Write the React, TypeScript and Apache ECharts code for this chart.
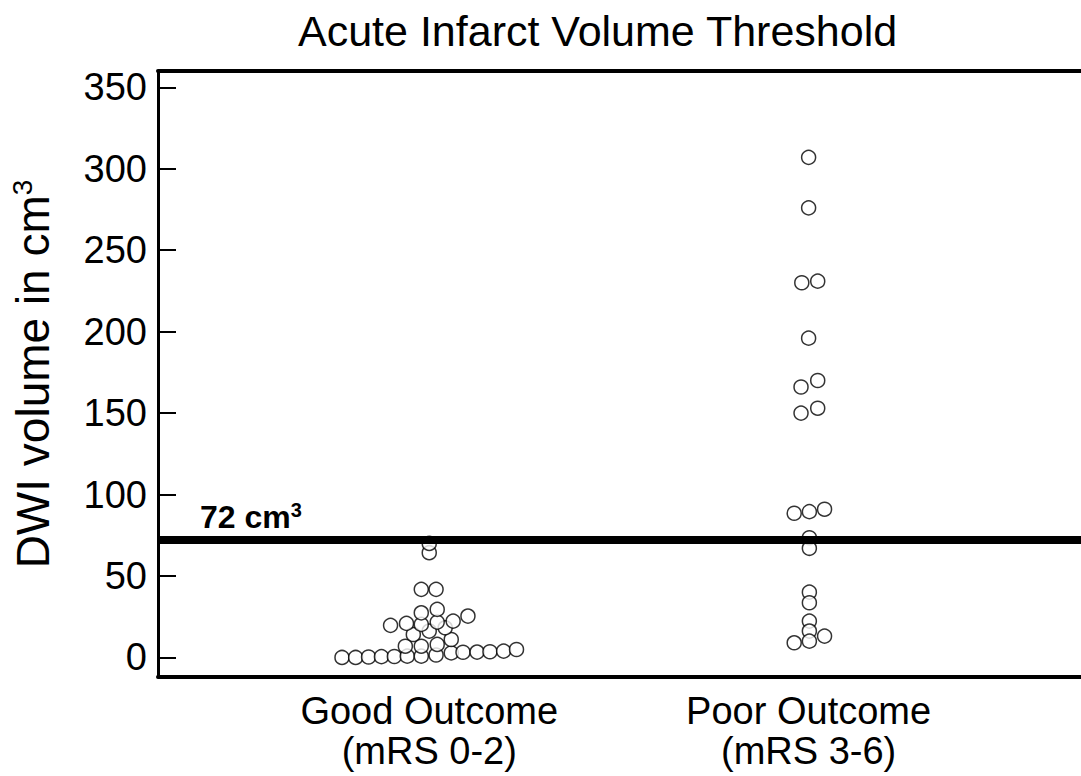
import React, { useEffect, useRef } from "react";
import * as echarts from "echarts";

const categories = ["Good Outcome\n(mRS 0-2)", "Poor Outcome\n(mRS 3-6)"];
const yTicks = [0, 50, 100, 150, 200, 250, 300, 350];
const threshold = 72;

const goodValues = [0, 0, 0.3, 0.5, 0.6, 0.8, 0.8, 1.5, 2.8, 3.2, 3.3, 3.5, 3.9, 4.9,
  6.9, 6.9, 8, 11, 14.1, 16.2, 18.2, 19.7, 20.9, 20.3, 21.7, 22.3, 25.4, 27.4, 29.5,
  41.8, 41.8, 64.3, 70];
const goodJitter = [-0.23, -0.194, -0.16, -0.126, -0.092, -0.058, -0.021, 0.018, 0.058, 0.089, 0.126, 0.16, 0.196, 0.23,
  -0.063, -0.021, 0.021, 0.058, -0.042, 0, 0.042, -0.102, -0.06, -0.021, 0.021, 0.063, 0.102, -0.021, 0.021,
  -0.021, 0.018, 0, 0];

const poorValues = [307, 276, 230, 231, 196, 166, 170, 150, 153, 88.5, 89.5, 91, 73.5, 67,
  40.1, 33.6, 22.3, 16.2, 13.1, 9, 10];
const poorJitter = [0, 0, -0.018, 0.024, 0, -0.02, 0.024, -0.02, 0.024, -0.038, 0.002, 0.042, 0.002, 0.002,
  0.002, 0.002, 0.002, 0.002, 0.042, -0.038, 0.002];

const FONT = "'Liberation Sans', Arial, Helvetica, sans-serif";

export default function App() {
  const ref = useRef<HTMLDivElement>(null);
  useEffect(() => {
    if (!ref.current) return;
    const chart = echarts.init(ref.current, undefined, { renderer: "svg" });
    const goodData = goodValues.map((v, i) => [0 + goodJitter[i], v]);
    const poorData = poorValues.map((v, i) => [1 + poorJitter[i], v]);
    const pointStyle = { color: "#ffffff", borderColor: "#000000", borderWidth: 1.5 };
    chart.setOption({
      animation: false,
      backgroundColor: "#ffffff",
      textStyle: { fontFamily: FONT },
      title: {
        text: "Acute Infarct Volume Threshold",
        left: 293,
        top: 4,
        textStyle: { fontSize: 43, fontWeight: "normal", color: "#000", fontFamily: FONT },
      },
      grid: { left: 156, top: 71, width: 932, height: 606, containLabel: false },
      xAxis: [
        {
          type: "value",
          min: -0.715,
          max: 1.718,
          position: "bottom",
          axisLine: { show: true, onZero: false, lineStyle: { color: "#000", width: 4 } },
          axisTick: { show: false },
          splitLine: { show: false },
          axisLabel: {
            customValues: [0, 1],
            formatter: (v: number) => categories[Math.round(v)] ?? "",
            fontSize: 38,
            lineHeight: 40,
            color: "#000",
            margin: 14,
            fontFamily: FONT,
          },
        },
        {
          type: "value",
          min: -0.715,
          max: 1.718,
          position: "top",
          axisLine: { show: true, onZero: false, lineStyle: { color: "#000", width: 4 } },
          axisTick: { show: false },
          axisLabel: { show: false },
          splitLine: { show: false },
        },
      ],
      yAxis: {
        type: "value",
        min: -12,
        max: 360,
        axisLine: { show: true, onZero: false, lineStyle: { color: "#000", width: 3 } },
        axisTick: { show: true, inside: true, length: 18, customValues: yTicks, lineStyle: { color: "#000", width: 2 } },
        splitLine: { show: false },
        axisLabel: {
          customValues: yTicks,
          fontSize: 38,
          color: "#000",
          margin: 11,
          fontFamily: FONT,
        },
        name: "{a|DWI volume in cm}{b|3}",
        nameLocation: "middle",
        nameRotate: 90,
        nameGap: 100,
        nameTextStyle: {
          color: "#000",
          fontFamily: FONT,
          rich: {
            a: { fontSize: 46, color: "#000", fontFamily: FONT, lineHeight: 50 },
            b: { fontSize: 28, color: "#000", fontFamily: FONT, verticalAlign: "top", lineHeight: 50 },
          },
        },
      },
      series: [
        {
          type: "scatter",
          data: goodData,
          symbol: "circle",
          symbolSize: 14,
          itemStyle: pointStyle,
          z: 2,
          silent: true,
        },
        {
          type: "scatter",
          data: poorData,
          symbol: "circle",
          symbolSize: 14,
          itemStyle: pointStyle,
          z: 2,
          silent: true,
        },
        {
          type: "scatter",
          data: [],
          z: 10,
          silent: true,
          markLine: {
            silent: true,
            symbol: ["none", "none"],
            animation: false,
            lineStyle: { color: "#000", width: 8, type: "solid" },
            emphasis: { disabled: true },
            label: {
              show: true,
              position: "insideStartTop",
              distance: [42, 6],
              formatter: "{a|72 cm}{b|3}",
              rich: {
                a: { fontSize: 32, fontWeight: "bold", color: "#000", fontFamily: FONT, lineHeight: 34 },
                b: { fontSize: 20, fontWeight: "bold", color: "#000", fontFamily: FONT, verticalAlign: "top", lineHeight: 34 },
              },
            },
            data: [{ yAxis: threshold }],
          },
        },
      ],
    });
    return () => chart.dispose();
  }, []);
  return <div ref={ref} style={{ position: "fixed", left: 0, top: 0, width: 1081, height: 776 }} />;
}
